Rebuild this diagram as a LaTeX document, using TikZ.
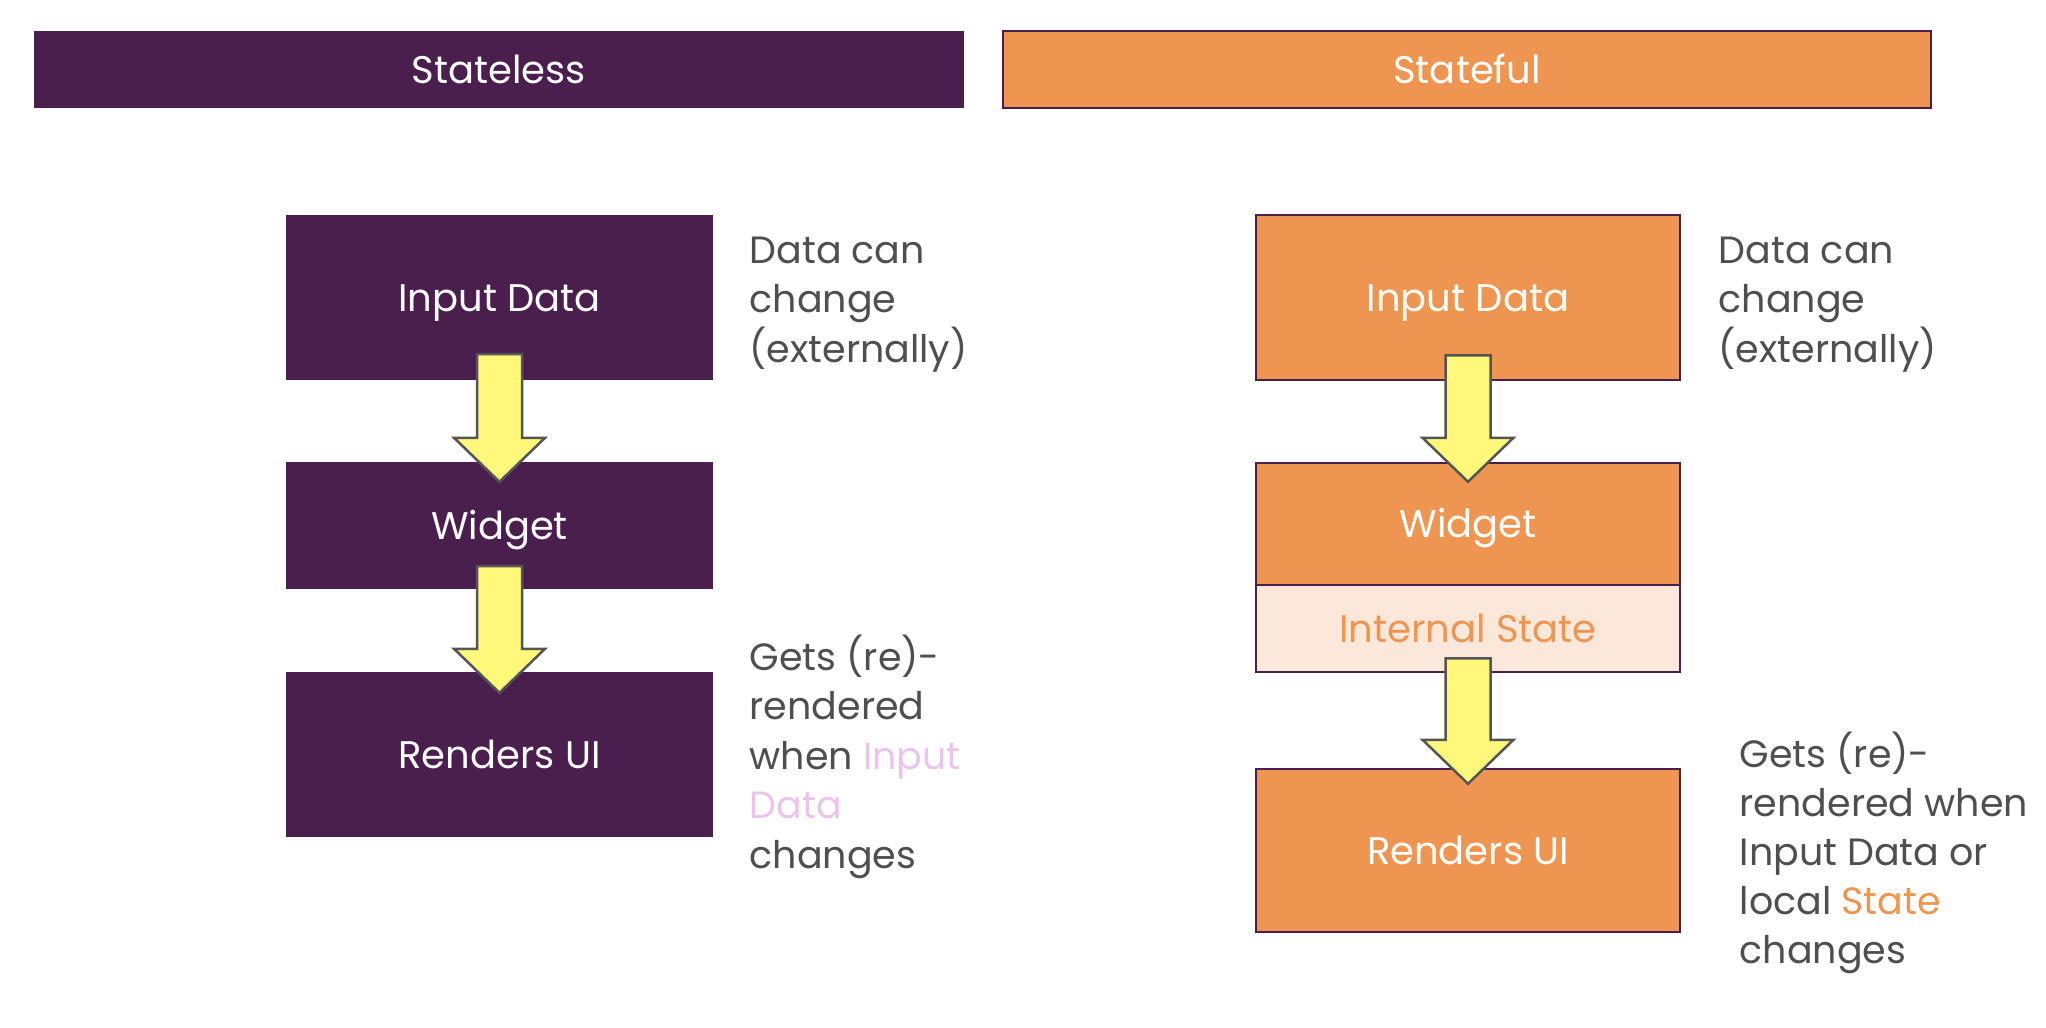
\documentclass[tikz,border=0pt]{standalone}
\usepackage{fontspec}
\setmainfont{Poppins}
\usetikzlibrary{calc}
\definecolor{plum}{HTML}{4A1E4D}
\definecolor{orng}{HTML}{EE9651}
\definecolor{lightst}{HTML}{FBE8DB}
\definecolor{yel}{HTML}{FFF87A}
\definecolor{arrline}{HTML}{555555}
\definecolor{txtgray}{HTML}{4F4F4F}
\definecolor{pinkt}{HTML}{E9C5E9}
\newcommand\blockarrow[2]{%
  \draw[yarrow] let \p1=(#1), \p2=(#2) in
    (\x1-22.5pt,\y1) -- (\x1+22.5pt,\y1) -- (\x1+22.5pt,\y2+44pt) --
    (\x1+45.5pt,\y2+44pt) -- (\x1,\y2) -- (\x1-45.5pt,\y2+44pt) --
    (\x1-22.5pt,\y2+44pt) -- cycle;}
\newcommand\firstln{\rule{0pt}{40pt}}
\tikzset{
  boxfont/.style={font=\fontsize{38.5}{46}\selectfont, text height=27pt, text depth=0pt},
  lbox/.style={boxfont, fill=plum, text=white, inner sep=0pt, minimum width=427pt},
  rbox/.style={boxfont, fill=orng, draw=plum, line width=2.5pt, text=white, inner sep=0pt, minimum width=424pt},
  yarrow/.style={fill=yel, draw=arrline, line width=2.5pt, line join=miter},
  sidetext/.style={font=\fontsize{38}{49.5}\selectfont, text=txtgray, align=left, anchor=north west, inner sep=0pt}
}
\begin{document}
\begin{tikzpicture}[x=1pt,y=-1pt]
\useasboundingbox[fill=white] (0,0) rectangle (2046,1028);
% headers
\node[lbox, minimum width=930pt, minimum height=77pt] (hl) at (499,69.5) {Stateless};
\node[rbox, minimum width=928pt, minimum height=77pt, line width=2pt] (hr) at (1467,69.5) {Stateful};
% left column
\node[lbox, minimum height=165pt] (in1) at (499.5,297.5) {Input Data};
\node[lbox, minimum height=127pt] (w1) at (499.5,525.5) {Widget};
\node[lbox, minimum height=165pt] (r1) at (499.5,754.5) {Renders UI};
% right column
\node[rbox, minimum height=165pt] (in2) at (1468,297.5) {Input Data};
\node[rbox, minimum height=122pt] (w2) at (1468,524) {Widget};
\node[rbox, fill=lightst, text=orng, minimum height=87pt] (st2) at (1468,628.5) {Internal State};
\node[rbox, minimum height=163pt] (r2) at (1468,850.5) {Renders UI};
% arrows
\blockarrow{$(in1.south)+(0,-26)$}{$(w1.north)+(0,20)$}
\blockarrow{$(w1.south)+(0,-23)$}{$(r1.north)+(0,21)$}
\blockarrow{$(in2.south)+(0,-26)$}{$(w2.north)+(0,20)$}
\blockarrow{$(st2.south)+(0,-15)$}{$(r2.north)+(0,16)$}
% side texts
\node[sidetext] (t1) at (749.5,223) {\firstln Data can\\change\\(externally)};
\node[sidetext] (t2) at (1718.5,223) {\firstln Data can\\change\\(externally)};
\node[sidetext] (t3) at (749.5,630) {\firstln Gets (re)-\\rendered\\when \textcolor{pinkt}{Input}\\\textcolor{pinkt}{Data}\\changes};
\node[sidetext, font=\fontsize{38}{49}\selectfont] (t4) at (1739.5,727) {\firstln Gets (re)-\\rendered when\\Input Data or\\local \textcolor{orng}{State}\\changes};
\end{tikzpicture}
\end{document}
